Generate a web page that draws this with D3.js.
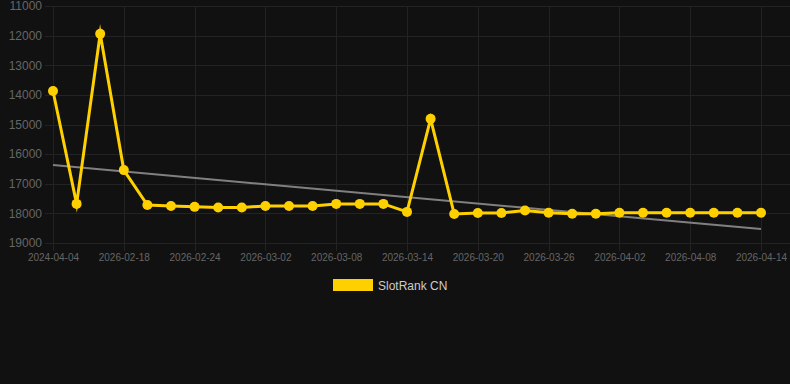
<!DOCTYPE html>
<html>
<head>
<meta charset="utf-8">
<script src="https://cdn.jsdelivr.net/npm/d3@7"></script>
<style>
  html, body { margin: 0; padding: 0; background: #111111; }
  svg { display: block; }
</style>
</head>
<body>
<svg id="chart" width="790" height="384"></svg>
<script>
const dates = [
  "2024-04-04", "2026-02-14", "2026-02-16", "2026-02-18", "2026-02-20", "2026-02-22",
  "2026-02-24", "2026-02-26", "2026-02-28", "2026-03-02", "2026-03-04", "2026-03-06",
  "2026-03-08", "2026-03-10", "2026-03-12", "2026-03-14", "2026-03-16", "2026-03-18",
  "2026-03-20", "2026-03-22", "2026-03-24", "2026-03-26", "2026-03-28", "2026-03-31",
  "2026-04-02", "2026-04-04", "2026-04-06", "2026-04-08", "2026-04-10", "2026-04-12",
  "2026-04-14"
];
const rankCN = [
  13870, 17680, 11940, 16540, 17720, 17750,
  17780, 17800, 17800, 17750, 17750, 17750,
  17680, 17680, 17680, 17950, 14810, 18020,
  17990, 17990, 17900, 17980, 18010, 18010,
  17980, 17980, 17980, 17980, 17980, 17980,
  17980
];
const trendValues = [16370, 18530];
const yTicks = [11000, 12000, 13000, 14000, 15000, 16000, 17000, 18000, 19000];
const xTickEvery = 3;
const seriesName = "SlotRank CN";

(function () {
const svg = d3.select("#chart");
const pLeft = 53, pRight = 761, pTop = 6, pBottom = 243, gridRight = 790, tickLen = 8;

const x = d3.scalePoint().domain(dates).range([pLeft, pRight]);
const y = d3.scaleLinear().domain([11000, 19000]).range([pTop, pBottom]);

const gridColor = "#232323";
const tickColor = "#666666";
const font = "Liberation Sans, Arial, sans-serif";

// horizontal grid
svg.append("g").selectAll("line").data(yTicks).join("line")
  .attr("x1", pLeft - tickLen).attr("x2", gridRight)
  .attr("y1", d => Math.round(y(d)) + 0.5).attr("y2", d => Math.round(y(d)) + 0.5)
  .attr("stroke", gridColor).attr("stroke-width", 1);

const shownTicks = dates.filter((d, i) => i % xTickEvery === 0);
// vertical grid
svg.append("g").selectAll("line").data(shownTicks).join("line")
  .attr("x1", d => Math.round(x(d)) + 0.5).attr("x2", d => Math.round(x(d)) + 0.5)
  .attr("y1", pTop).attr("y2", pBottom + tickLen)
  .attr("stroke", gridColor).attr("stroke-width", 1);

// y axis labels
const yAxis = d3.axisLeft(y).tickValues(yTicks).tickSize(0).tickPadding(0).tickFormat(d3.format("d"));
const yg = svg.append("g").attr("transform", "translate(42,0)").call(yAxis);
yg.select(".domain").remove();
yg.selectAll("text").attr("fill", tickColor).attr("font-family", font).attr("font-size", 12);

// x axis labels
const xAxis = d3.axisBottom(x).tickValues(shownTicks).tickSize(0).tickPadding(0);
const xg = svg.append("g").attr("transform", "translate(0,254)").call(xAxis);
xg.select(".domain").remove();
xg.selectAll("text").attr("fill", tickColor).attr("font-family", font).attr("font-size", 10);

// trend line
svg.append("line")
  .attr("x1", x(dates[0])).attr("y1", y(trendValues[0]))
  .attr("x2", x(dates[dates.length - 1])).attr("y2", y(trendValues[1]))
  .attr("stroke", "#808080").attr("stroke-width", 2);

// series line
const gold = "#FFD000";
const line = d3.line().x((d, i) => x(dates[i])).y(d => y(d));
svg.append("path").datum(rankCN)
  .attr("d", line).attr("fill", "none")
  .attr("stroke", gold).attr("stroke-width", 3)
  .attr("stroke-linejoin", "miter").attr("stroke-miterlimit", 10);

svg.append("g").selectAll("circle").data(rankCN).join("circle")
  .attr("cx", (d, i) => x(dates[i])).attr("cy", d => y(d))
  .attr("r", 5).attr("fill", gold);

// legend
svg.append("rect").attr("x", 333).attr("y", 279).attr("width", 40).attr("height", 12).attr("fill", gold);
svg.append("text").attr("x", 378).attr("y", 289.5)
  .attr("fill", "#cccccc").attr("font-family", font).attr("font-size", 12)
  .text(seriesName);
})();
</script>
</body>
</html>
